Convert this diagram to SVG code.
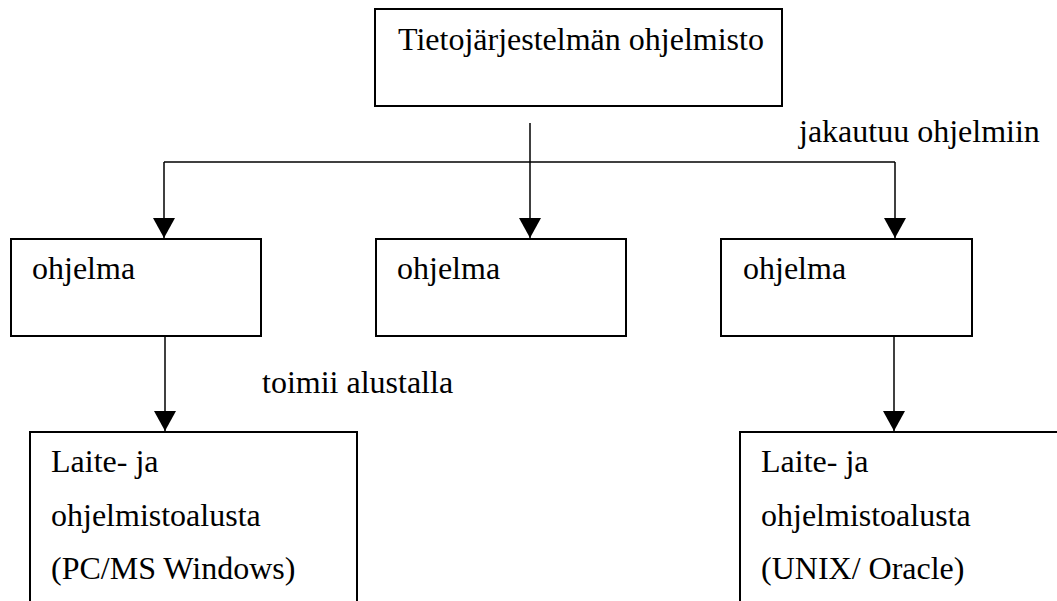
<svg xmlns="http://www.w3.org/2000/svg" width="1057" height="601" viewBox="0 0 1057 601">
<style>
.box{fill:#fff;stroke:#000;stroke-width:2}
.line{fill:none;stroke:#000;stroke-width:1.5}
text{font-family:'Liberation Serif','Times New Roman',Times,serif;font-size:32px;fill:#000}
</style>
<defs>
<marker id="ah" markerUnits="userSpaceOnUse" markerWidth="22" markerHeight="22" viewBox="0 0 22 22" refX="20" refY="11" orient="auto">
<path d="M0,0 L20,11 L0,22 Z" fill="#000"/>
</marker>
</defs>
<rect width="1057" height="601" fill="#fff"/>
<g id="connectors">
<line class="line" x1="530" y1="123" x2="530" y2="238" marker-end="url(#ah)"/>
<line class="line" x1="164" y1="162" x2="895" y2="162"/>
<line class="line" x1="164" y1="162" x2="164" y2="238" marker-end="url(#ah)"/>
<line class="line" x1="895" y1="162" x2="895" y2="238" marker-end="url(#ah)"/>
<line class="line" x1="165" y1="336" x2="165" y2="431" marker-end="url(#ah)"/>
<line class="line" x1="894" y1="336" x2="894" y2="431" marker-end="url(#ah)"/>
<text font-family="Liberation Serif, serif" x="799" y="142">jakautuu ohjelmiin</text>
<text font-family="Liberation Serif, serif" x="262" y="393">toimii alustalla</text>
</g>
<g id="top">
<rect class="box" x="375" y="9" width="407" height="97"/>
<text font-family="Liberation Serif, serif" x="398" y="50">Tietojärjestelmän ohjelmisto</text>
</g>
<g id="prog1">
<rect class="box" x="11" y="239" width="250" height="97"/>
<text font-family="Liberation Serif, serif" x="32" y="279">ohjelma</text>
</g>
<g id="prog2">
<rect class="box" x="376" y="239" width="250" height="97"/>
<text font-family="Liberation Serif, serif" x="397" y="279">ohjelma</text>
</g>
<g id="prog3">
<rect class="box" x="721" y="239" width="251" height="97"/>
<text font-family="Liberation Serif, serif" x="743" y="279">ohjelma</text>
</g>
<g id="platform1">
<rect class="box" x="30" y="432" width="327" height="200"/>
<text font-family="Liberation Serif, serif" x="51" y="472">Laite- ja</text>
<text font-family="Liberation Serif, serif" x="51" y="526">ohjelmistoalusta</text>
<text font-family="Liberation Serif, serif" x="51" y="579">(PC/MS Windows)</text>
</g>
<g id="platform2">
<rect class="box" x="740" y="432" width="340" height="200"/>
<text font-family="Liberation Serif, serif" x="761" y="472">Laite- ja</text>
<text font-family="Liberation Serif, serif" x="761" y="526">ohjelmistoalusta</text>
<text font-family="Liberation Serif, serif" x="761" y="579">(UNIX/ Oracle)</text>
</g>
</svg>
